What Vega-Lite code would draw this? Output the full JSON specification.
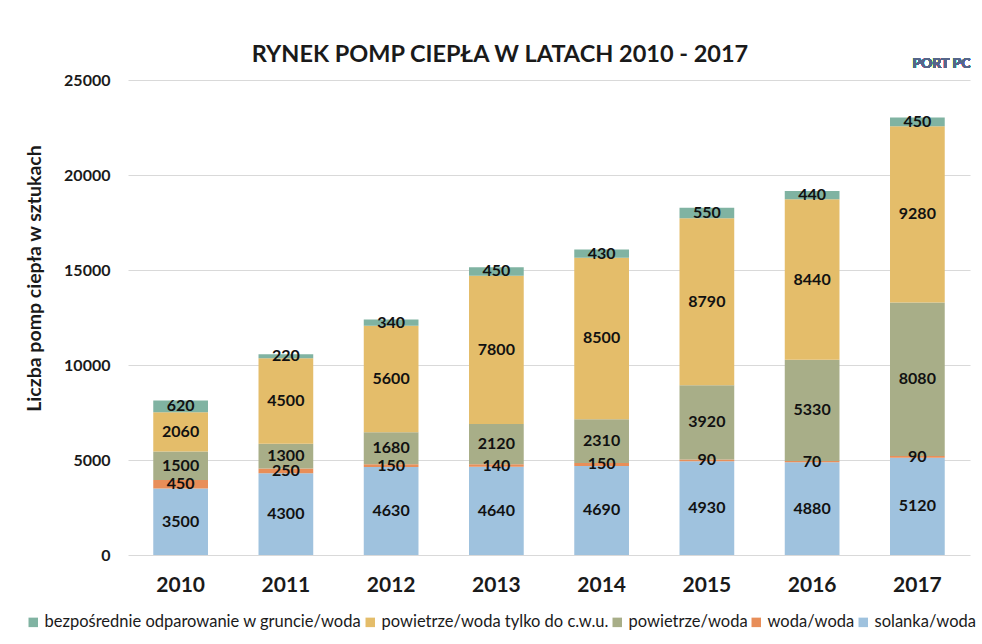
{
  "$schema": "https://vega.github.io/schema/vega-lite/v6.json",
  "width": 842,
  "height": 475,
  "autosize": {"type": "none"},
  "padding": {"left": 128, "top": 80, "right": 12, "bottom": 89},
  "background": "white",
  "config": {
    "font": "Lato",
    "view": {"stroke": null}
  },
  "title": {
    "text": "RYNEK POMP CIEPŁA W LATACH 2010 - 2017",
    "font": "Lato",
    "fontSize": 23.5,
    "fontWeight": "bold",
    "color": "#1a1a1a",
    "anchor": "middle",
    "dx": -49,
    "offset": -10
  },
  "data": {
    "values": [
      {"rok": "2010", "s": "solanka/woda", "v": 3500},
      {"rok": "2010", "s": "woda/woda", "v": 450},
      {"rok": "2010", "s": "powietrze/woda", "v": 1500},
      {"rok": "2010", "s": "powietrze/woda tylko do c.w.u.", "v": 2060},
      {"rok": "2010", "s": "bezpośrednie odparowanie w gruncie/woda", "v": 620},
      {"rok": "2011", "s": "solanka/woda", "v": 4300},
      {"rok": "2011", "s": "woda/woda", "v": 250},
      {"rok": "2011", "s": "powietrze/woda", "v": 1300},
      {"rok": "2011", "s": "powietrze/woda tylko do c.w.u.", "v": 4500},
      {"rok": "2011", "s": "bezpośrednie odparowanie w gruncie/woda", "v": 220},
      {"rok": "2012", "s": "solanka/woda", "v": 4630},
      {"rok": "2012", "s": "woda/woda", "v": 150},
      {"rok": "2012", "s": "powietrze/woda", "v": 1680},
      {"rok": "2012", "s": "powietrze/woda tylko do c.w.u.", "v": 5600},
      {"rok": "2012", "s": "bezpośrednie odparowanie w gruncie/woda", "v": 340},
      {"rok": "2013", "s": "solanka/woda", "v": 4640},
      {"rok": "2013", "s": "woda/woda", "v": 140},
      {"rok": "2013", "s": "powietrze/woda", "v": 2120},
      {"rok": "2013", "s": "powietrze/woda tylko do c.w.u.", "v": 7800},
      {"rok": "2013", "s": "bezpośrednie odparowanie w gruncie/woda", "v": 450},
      {"rok": "2014", "s": "solanka/woda", "v": 4690},
      {"rok": "2014", "s": "woda/woda", "v": 150},
      {"rok": "2014", "s": "powietrze/woda", "v": 2310},
      {"rok": "2014", "s": "powietrze/woda tylko do c.w.u.", "v": 8500},
      {"rok": "2014", "s": "bezpośrednie odparowanie w gruncie/woda", "v": 430},
      {"rok": "2015", "s": "solanka/woda", "v": 4930},
      {"rok": "2015", "s": "woda/woda", "v": 90},
      {"rok": "2015", "s": "powietrze/woda", "v": 3920},
      {"rok": "2015", "s": "powietrze/woda tylko do c.w.u.", "v": 8790},
      {"rok": "2015", "s": "bezpośrednie odparowanie w gruncie/woda", "v": 550},
      {"rok": "2016", "s": "solanka/woda", "v": 4880},
      {"rok": "2016", "s": "woda/woda", "v": 70},
      {"rok": "2016", "s": "powietrze/woda", "v": 5330},
      {"rok": "2016", "s": "powietrze/woda tylko do c.w.u.", "v": 8440},
      {"rok": "2016", "s": "bezpośrednie odparowanie w gruncie/woda", "v": 440},
      {"rok": "2017", "s": "solanka/woda", "v": 5120},
      {"rok": "2017", "s": "woda/woda", "v": 90},
      {"rok": "2017", "s": "powietrze/woda", "v": 8080},
      {"rok": "2017", "s": "powietrze/woda tylko do c.w.u.", "v": 9280},
      {"rok": "2017", "s": "bezpośrednie odparowanie w gruncie/woda", "v": 450}
    ]
  },
  "transform": [
    {"calculate": "indexof(['solanka/woda','woda/woda','powietrze/woda','powietrze/woda tylko do c.w.u.','bezpośrednie odparowanie w gruncie/woda'], datum.s)", "as": "k"},
    {"stack": "v", "groupby": ["rok"], "sort": [{"field": "k", "order": "ascending"}], "as": ["y0", "y1"]},
    {"calculate": "(datum.y0 + datum.y1) / 2", "as": "ym"}
  ],
  "layer": [
    {
      "mark": {"type": "bar"},
      "encoding": {
        "x": {
          "field": "rok",
          "type": "nominal",
          "scale": {"paddingInner": 0.48, "paddingOuter": 0.24},
          "axis": {
            "title": null,
            "labelAngle": 0,
            "labelFont": "Lato",
            "labelFontSize": 21,
            "labelFontWeight": "bold",
            "labelColor": "#1a1a1a",
            "labelPadding": 19,
            "ticks": false,
            "domain": false
          }
        },
        "y": {
          "field": "y1",
          "type": "quantitative",
          "scale": {"domain": [0, 25000], "nice": false},
          "axis": {
            "title": "Liczba  pomp ciepła  w sztukach",
            "titleFont": "Lato",
            "titleFontSize": 19.5,
            "titleFontWeight": "bold",
            "titleColor": "#1a1a1a",
            "titlePadding": 19,
            "titleY": 198,
            "values": [0, 5000, 10000, 15000, 20000, 25000],
            "format": "d",
            "labelFont": "Lato",
            "labelFontSize": 16,
            "labelFontWeight": "bold",
            "labelColor": "#1a1a1a",
            "labelPadding": 18,
            "ticks": false,
            "domain": false,
            "grid": true,
            "gridColor": "#d9d9d9",
            "gridWidth": 1
          }
        },
        "y2": {"field": "y0"},
        "color": {
          "field": "s",
          "type": "nominal",
          "scale": {
            "domain": ["bezpośrednie odparowanie w gruncie/woda", "powietrze/woda tylko do c.w.u.", "powietrze/woda", "woda/woda", "solanka/woda"],
            "range": ["#80b3a2", "#e4bd6a", "#a8ae88", "#e88e59", "#9fc2de"]
          },
          "legend": {
            "title": null,
            "orient": "none",
            "direction": "horizontal",
            "legendX": -103,
            "legendY": 534,
            "symbolType": "square",
            "symbolSize": 90,
            "symbolStrokeWidth": 0,
            "labelFont": "Lato",
            "labelFontSize": 16.5,
            "labelColor": "#1a1a1a",
            "labelLimit": 500,
            "labelOffset": 3,
            "columnPadding": 0,
            "symbolOffset": 0
          }
        }
      }
    },
    {
      "mark": {"type": "text", "font": "Lato", "fontSize": 16, "fontWeight": "bold", "color": "#111111", "baseline": "middle"},
      "encoding": {
        "x": {"field": "rok", "type": "nominal"},
        "y": {"field": "ym", "type": "quantitative", "scale": {"domain": [0, 25000], "nice": false}},
        "text": {"field": "v", "type": "quantitative", "format": "d"}
      }
    },
    {
      "mark": {"type": "text", "font": "Lato", "fontSize": 14, "fontWeight": "bold", "color": "#55668a", "align": "left", "baseline": "middle", "dx": -5, "dy": 2, "text": "PORT PC"},
      "encoding": {
        "x": {"datum": "2017"},
        "y": {"datum": 25950, "scale": {"domain": [0, 25000], "nice": false}}
      }
    }
  ]
}
